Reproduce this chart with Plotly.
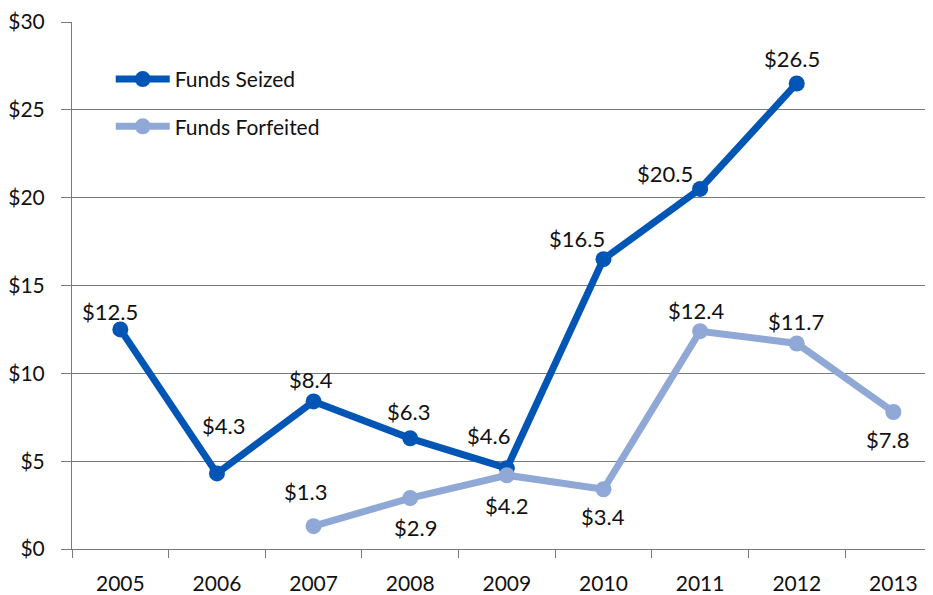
import plotly.graph_objects as go

years = ["2005", "2006", "2007", "2008", "2009", "2010", "2011", "2012", "2013"]
seized_years = ["2005", "2006", "2007", "2008", "2009", "2010", "2011", "2012"]
seized = [12.5, 4.3, 8.4, 6.3, 4.6, 16.5, 20.5, 26.5]
forfeited_years = ["2007", "2008", "2009", "2010", "2011", "2012", "2013"]
forfeited = [1.3, 2.9, 4.2, 3.4, 12.4, 11.7, 7.8]
y_ticks = [0, 5, 10, 15, 20, 25, 30]
y_tick_labels = ["$0", "$5", "$10", "$15", "$20", "$25", "$30"]

# label offsets (pixels) relative to each point: (dx, dy down-positive)
seized_dx = [-10, 7, -3, -2, -18, -26, -35, -5]
seized_dy = [-18, -48, -22, -27, -33, -21, -15, -25]
forf_dx = [-8, 5, 0, 0, -4, -1, -6]
forf_dy = [-35, 29, 30, 27, -21, -22, 28]

FONT = "Lato"
C1 = "#0055B5"
C2 = "#8FA8D5"
GRID = "#7a7a7a"

fig = go.Figure()
fig.add_trace(go.Scatter(
    x=seized_years, y=seized, mode="lines+markers", name="Funds Seized",
    legendgroup="a",
    line=dict(color=C1, width=7), marker=dict(color=C1, size=16),
    cliponaxis=False,
))
fig.add_trace(go.Scatter(
    x=forfeited_years, y=forfeited, mode="lines+markers", name="Funds Forfeited",
    legendgroup="b",
    line=dict(color=C2, width=7), marker=dict(color=C2, size=16),
    cliponaxis=False,
))

# value labels, positioned by category index on the category axis
for xs, ys, dxs, dys in [(seized_years, seized, seized_dx, seized_dy),
                         (forfeited_years, forfeited, forf_dx, forf_dy)]:
    for x, y, dx, dy in zip(xs, ys, dxs, dys):
        fig.add_annotation(
            x=years.index(x), y=y, xref="x", yref="y", text="$" + str(y),
            showarrow=False, xshift=dx, yshift=-dy,
            font=dict(family=FONT, size=22, color="#111"),
        )

fig.update_layout(
    width=925, height=587,
    margin=dict(l=64, r=0, t=10, b=44),
    paper_bgcolor="white", plot_bgcolor="white",
    font=dict(family=FONT, size=21, color="#111"),
    showlegend=True,
    legend=dict(x=0.045, y=0.93, xanchor="left", yanchor="top",
                bgcolor="rgba(0,0,0,0)", font=dict(size=21), itemwidth=54,
                tracegroupgap=17),
    xaxis=dict(type="category", categoryorder="array", categoryarray=years,
               range=[-0.5, 8.41], showgrid=False, showline=True,
               linecolor=GRID, linewidth=1, ticks="outside", ticklen=8,
               tickcolor=GRID, tickson="boundaries", zeroline=False,
               tickfont=dict(size=21), ticklabelstandoff=16),
    yaxis=dict(range=[0, 30], tickvals=y_ticks, ticktext=y_tick_labels,
               showgrid=True, gridcolor=GRID, gridwidth=1, showline=True,
               linecolor=GRID, linewidth=1, ticks="outside", ticklen=10,
               tickcolor=GRID, zeroline=False, tickfont=dict(size=21),
               ticklabeloverflow="allow", ticklabelstandoff=12),
)

fig.write_html("out.html")
